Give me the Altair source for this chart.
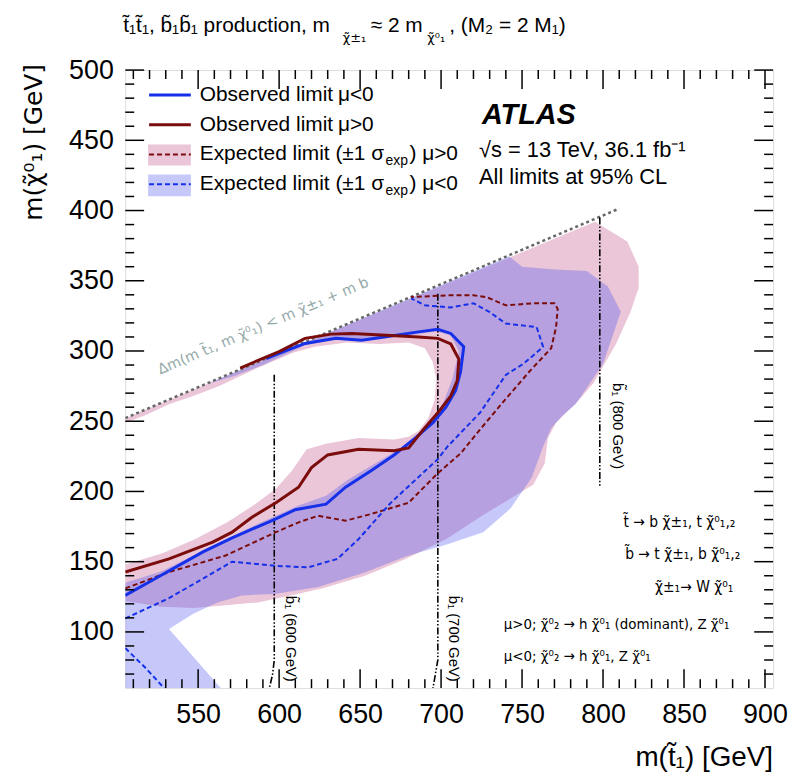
import altair as alt
import pandas as pd

# ---------------- data (GeV) ----------------
X_DOMAIN = [505, 905]
Y_DOMAIN = [60, 500]
X_LABELS = [550, 600, 650, 700, 750, 800, 850, 900]
Y_LABELS = [100, 150, 200, 250, 300, 350, 400, 450, 500]

# Observed limit mu<0
obs_neg_x = [505, 522, 553, 571, 597, 610, 629, 641, 657, 671, 684, 695, 703, 709, 712, 714, 706, 698, 686, 665, 651, 635, 616, 600, 592]
obs_neg_y = [126, 137, 157, 167, 180, 187, 191, 203, 215, 226, 238, 249, 260, 272, 285, 303, 312.5, 315.5, 313.6, 310, 307.7, 309, 305.4, 298.3, 294.5]
# Observed limit mu>0
obs_pos_x = [505, 532, 559, 571, 583, 598, 612, 620, 630, 649, 671, 680, 689, 698, 706, 710, 711, 706, 698, 686, 669, 645, 632, 616, 600, 587, 576]
obs_pos_y = [142.6, 152, 164, 171, 181.5, 192, 203, 217, 226, 230, 229, 231, 244, 256, 268, 279, 294, 305, 309, 310, 311, 312.5, 312, 309, 299.5, 293.3, 287.8]
# Expected limit mu>0
exp_pos_x = [505, 532, 567, 598, 612, 624, 641, 657, 680, 698, 712, 724, 740, 755, 768, 771, 772, 770, 757, 740, 728, 720, 704, 681.5]
exp_pos_y = [131, 142.6, 154.4, 171, 178, 182.7, 179.2, 184, 192, 213, 227, 244, 266, 286, 302, 317, 330, 334, 334, 332.5, 338.4, 339.6, 339.6, 338.4]
# Expected limit mu<0 (main contour and lower-left piece)
exp_neg_x = [505, 532, 571, 598, 618, 636, 649, 669, 698, 704, 724, 740, 751, 763, 759, 740, 730, 720, 706, 690, 681.5]
exp_neg_y = [109.6, 124, 150, 147, 146, 152, 166, 192, 223, 232, 256, 283, 291, 303, 317, 319.5, 327.7, 334, 331, 332.5, 337.5]
exp_neg2_x = [505, 517, 529]
exp_neg2_y = [88.5, 75, 60]

# +-1 sigma band, mu>0
band_pos_x = [505, 527, 547, 567, 587, 607, 627, 653, 678, 703, 727, 743, 757, 764, 766, 771, 785, 794, 800, 808, 817, 822, 822, 815, 795,
              505, 505, 517, 532, 547, 563, 583, 597, 609, 622, 642, 662, 680, 690, 695, 697, 696, 692, 686, 680, 671, 649, 629, 617, 608, 598, 584, 568, 548, 528, 505]
band_pos_y = [122, 118, 117, 119, 121, 126, 131, 140, 152, 166, 184, 195, 205, 220, 238, 249, 265, 277, 289, 305, 328, 345, 360, 378, 392,
              252.2, 249, 254, 262, 268, 275, 286, 293, 299, 303, 306, 305, 306, 302, 292, 280, 265, 252, 243, 239, 237, 238, 234, 230, 215, 202, 190, 178, 166, 156, 148]
# +-1 sigma band, mu<0
band_neg_x = [505, 505, 527, 557, 587, 612, 629, 642, 658, 674, 687, 694, 701, 707, 711, 706, 697, 685, 665, 650, 634, 616, 605, 590, 572, 555,
              742, 750, 770, 790, 803, 811, 800, 789, 783, 775, 768, 763, 756, 743, 726, 703, 679, 652, 624, 597, 577, 562, 547, 532, 564]
band_neg_y = [60, 135, 143, 160, 177, 190, 197, 208, 219, 230, 242, 252, 262, 280, 300, 311, 314, 312, 309, 307, 308, 304, 298, 290, 282, 276.4,
              367.4, 360, 358, 357, 346, 328, 291, 272, 262, 254, 245, 232, 210, 188, 171, 162, 154, 142, 132, 127, 126, 121, 113, 102, 60]

# kinematic limit
kin_x = [505, 810]
kin_y = [252.2, 401.4]
# sbottom mass lines
sb600_x = [597, 597, 596, 594]
sb600_y = [283, 80, 70, 60]
sb700_x = [698, 698, 696.5, 695]
sb700_y = [340.8, 80, 70, 60]
sb800_x = [798, 798]
sb800_y = [395, 204]

# ---------------- styling ----------------
W, H = 652, 622
FONT = "Liberation Sans"
GFONT = "DejaVu Sans"   # for texts with tilde-accented Greek and super/subscripts
PFONT = "DejaVu Sans Condensed, DejaVu Sans"
BLUE = "#1530e8"
RED = "#7a0c0c"
PINK = "#eac6d8"
BLUE_FILL = "rgba(65,72,238,0.3)"   # translucent: light blue on white, purple over pink
LBLUE = "#c6c8fa"

xs = alt.Scale(domain=X_DOMAIN, nice=False, zero=False)
ys = alt.Scale(domain=Y_DOMAIN, nice=False, zero=False)
x_axis = alt.Axis(values=X_LABELS, ticks=False, domain=False, grid=False, labelFontSize=27, labelFont=FONT,
                  labelColor="black", labelPadding=14, labelFlush=False, labelOverlap=False, title=None)
y_axis = alt.Axis(values=Y_LABELS, ticks=False, domain=False, grid=False, labelFontSize=27, labelFont=FONT,
                  labelColor="black", labelPadding=12, labelFlush=False, labelOverlap=False, title=None)


def enc_xy():
    return dict(x=alt.X("x:Q", scale=xs, axis=x_axis), y=alt.Y("y:Q", scale=ys, axis=y_axis))


def df_of(xv, yv):
    return pd.DataFrame({"x": xv, "y": yv, "i": list(range(len(xv)))})


def polygon(xv, yv, color):
    return alt.Chart(df_of(xv, yv)).mark_line(fill=color, strokeWidth=0, strokeOpacity=0, clip=True).encode(
        order="i:Q", **enc_xy())


def curve(xv, yv, color, width, dash=None):
    kw = dict(color=color, strokeWidth=width, clip=True)
    if dash:
        kw["strokeDash"] = dash
    return alt.Chart(df_of(xv, yv)).mark_line(**kw).encode(order="i:Q", **enc_xy())


ONE = pd.DataFrame({"a": [0]})


def text(t, x, y, size=21, align="left", baseline="alphabetic", angle=0, color="black", weight="normal",
         style="normal", font=FONT):
    kw = dict(text=t, fontSize=size, font=font, align=align, baseline=baseline, color=color,
              fontWeight=weight, fontStyle=style)
    if angle:
        kw["angle"] = angle
    return alt.Chart(ONE).mark_text(**kw).encode(x=alt.value(x), y=alt.value(y))


def ticks(vals, axis, length):
    d = pd.DataFrame({"v": vals})
    out = []
    if axis == "x":
        for y0, y1 in [(H, H - length), (0, length)]:
            out.append(alt.Chart(d).mark_rule(color="black", strokeWidth=1.5).encode(
                x=alt.X("v:Q", scale=xs, axis=x_axis), y=alt.value(y0), y2=alt.value(y1)))
    else:
        for x0, x1 in [(0, length), (W, W - length)]:
            out.append(alt.Chart(d).mark_rule(color="black", strokeWidth=1.5).encode(
                y=alt.Y("v:Q", scale=ys, axis=y_axis), x=alt.value(x0), x2=alt.value(x1)))
    return out


layers = []
layers.append(polygon(band_pos_x, band_pos_y, PINK))
layers.append(polygon(band_neg_x, band_neg_y, BLUE_FILL))
layers.append(curve(kin_x, kin_y, "#666666", 2.5, [3, 3]))
layers.append(curve(sb600_x, sb600_y, "black", 1.6, [7, 2, 1.5, 2, 1.5, 2]))
layers.append(curve(sb700_x, sb700_y, "black", 1.6, [7, 2, 1.5, 2, 1.5, 2]))
layers.append(curve(sb800_x, sb800_y, "black", 1.6, [7, 2, 1.5, 2, 1.5, 2]))
layers.append(curve(exp_pos_x, exp_pos_y, RED, 2, [5, 3]))
layers.append(curve(exp_neg_x, exp_neg_y, BLUE, 2, [5, 3]))
layers.append(curve(exp_neg2_x, exp_neg2_y, BLUE, 2, [5, 3]))
layers.append(curve(obs_neg_x, obs_neg_y, BLUE, 3))
layers.append(curve(obs_pos_x, obs_pos_y, RED, 3))

# ticks (inside, ROOT style)
maj_x = [v for v in range(510, 906, 10) if v % 50 == 0]
min_x = [v for v in range(510, 906, 10) if v % 50 != 0]
maj_y = [v for v in range(70, 501, 10) if v % 50 == 0]
min_y = [v for v in range(70, 501, 10) if v % 50 != 0]
layers += ticks(maj_x, "x", 19) + ticks(min_x, "x", 9) + ticks(maj_y, "y", 19) + ticks(min_y, "y", 9)

# legend
leg = [
    alt.Chart(ONE).mark_rect(color=PINK).encode(x=alt.value(23), x2=alt.value(66), y=alt.value(75), y2=alt.value(96)),
    alt.Chart(ONE).mark_rect(color=LBLUE).encode(x=alt.value(23), x2=alt.value(66), y=alt.value(105), y2=alt.value(127)),
    alt.Chart(ONE).mark_rule(color=BLUE, strokeWidth=3).encode(x=alt.value(24), x2=alt.value(66), y=alt.value(25)),
    alt.Chart(ONE).mark_rule(color=RED, strokeWidth=3).encode(x=alt.value(24), x2=alt.value(66), y=alt.value(55)),
    alt.Chart(ONE).mark_rule(color=RED, strokeWidth=2, strokeDash=[5, 3]).encode(x=alt.value(24), x2=alt.value(66), y=alt.value(85)),
    alt.Chart(ONE).mark_rule(color=BLUE, strokeWidth=2, strokeDash=[5, 3]).encode(x=alt.value(24), x2=alt.value(66), y=alt.value(115)),
    text("Observed limit", 75, 25, baseline="middle"),
    text("μ<0", 214, 25, baseline="middle"),
    text("Observed limit", 75, 55, baseline="middle"),
    text("μ>0", 214, 55, baseline="middle"),
    text("Expected limit (±1 σ", 75, 85, baseline="middle"),
    text("exp", 262, 92, size=14, baseline="middle"),
    text(") μ>0", 286, 85, baseline="middle"),
    text("Expected limit (±1 σ", 75, 115, baseline="middle"),
    text("exp", 262, 122, size=14, baseline="middle"),
    text(") μ<0", 286, 115, baseline="middle"),
]
layers += leg

# ATLAS block
layers += [
    text("ATLAS", 359, 54, size=29, weight="bold", style="italic"),
    text("√s = 13 TeV, 36.1 fb⁻¹", 356, 87, size=22),
    text("All limits at 95% CL", 356, 115, size=22),
]

# process text
layers += [
    text("t̃ → b χ̃±₁, t χ̃⁰₁,₂", 614, 460, size=15.5, align="right", font=PFONT),
    text("b̃ → t χ̃±₁, b χ̃⁰₁,₂", 619, 492, size=15.5, align="right", font=PFONT),
    text("χ̃±₁→ W χ̃⁰₁", 612, 525, size=15.5, align="right", font=PFONT),
    text("μ>0; χ̃⁰₂ → h χ̃⁰₁ (dominant), Z χ̃⁰₁", 381, 563, size=15, font=PFONT),
    text("μ<0; χ̃⁰₂ → h χ̃⁰₁, Z χ̃⁰₁", 381, 595, size=15, font=PFONT),
]

# sbottom labels and kinematic label
layers += [
    text("b̃₁ (600 GeV)", 167, 529, size=15, angle=90, baseline="middle"),
    text("b̃₁ (700 GeV)", 331, 529, size=15, angle=90, baseline="middle"),
    text("b̃₁ (800 GeV)", 496, 315, size=15, angle=90, baseline="middle"),
    text("Δm(m t̃₁, m χ̃⁰₁) < m χ̃±₁ + m b", 139, 258, size=14.5, angle=337, baseline="middle", align="center",
         color="#95a9a9", font=GFONT),
]

# axis titles
layers += [
    text("m(t̃₁) [GeV]", 652, 700, size=28, align="right"),
    text("m(χ̃⁰₁) [GeV]", -92, -6, size=25, align="right", baseline="middle", angle=270, font=GFONT),
]

# title
layers += [
    text("t̃₁t̃₁, b̃₁b̃₁ production, m", -2, -38, size=21),
    text("χ̃±₁", 219, -28, size=13, font=GFONT),
    text("≈ 2 m", 247, -38, size=21),
    text("χ̃⁰₁", 304, -28, size=13, font=GFONT),
    text(", (M₂ = 2 M₁)", 326, -38, size=21),
]

chart = alt.layer(*layers).properties(
    width=W, height=H,
    autosize=alt.AutoSizeParams(type="none"),
    padding={"left": 118, "top": 60, "right": 15, "bottom": 86},
).configure_view(stroke="black", strokeWidth=2).configure(background="white")

chart.save("out.html", embed_options={"renderer": "svg", "actions": False})
